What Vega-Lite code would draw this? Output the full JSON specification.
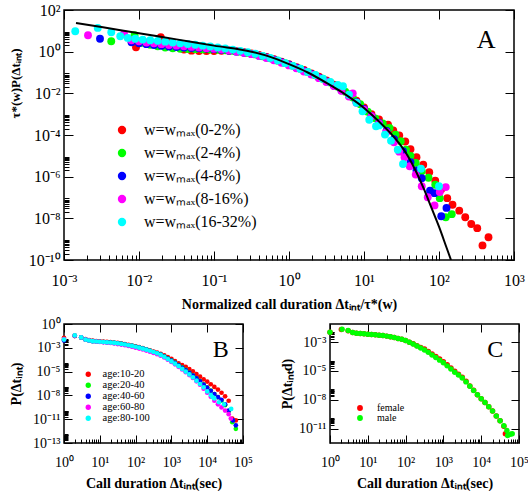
{
  "$schema": "https://vega.github.io/schema/vega-lite/v6.json",
  "background": "white",
  "padding": {"left": 8, "top": 1, "right": 0, "bottom": 0},
  "config": {
    "view": {"stroke": "black", "strokeWidth": 1.5},
    "font": "Liberation Serif",
    "axis": {"grid": false, "domain": false, "ticks": true, "labelFont": "Liberation Serif", "titleFont": "Liberation Serif", "labelColor": "black", "titleColor": "black", "tickColor": "black", "tickWidth": 1, "tickOpacity": 1, "titleFontWeight": "bold", "labelFlush": false, "labelOverlap": false},
    "legend": {"labelFont": "Liberation Serif", "labelColor": "black", "title": null}
  },
  "datasets": {
    "A": [
      {"series":"0-2%","log_x":-2.04,"log_y":0.21},{"series":"0-2%","log_x":-1.71,"log_y":0.69},{"series":"0-2%","log_x":-1.6,"log_y":0.42},{"series":"0-2%","log_x":-1.5,"log_y":0.22},{"series":"0-2%","log_x":-1.4,"log_y":0.1},{"series":"0-2%","log_x":-1.3,"log_y":0.05},{"series":"0-2%","log_x":-1.2,"log_y":0.03},{"series":"0-2%","log_x":-1.1,"log_y":0.03},{"series":"0-2%","log_x":-1.0,"log_y":0.03},{"series":"0-2%","log_x":-0.9,"log_y":0.04},{"series":"0-2%","log_x":-0.8,"log_y":0.04},{"series":"0-2%","log_x":-0.7,"log_y":0.02},{"series":"0-2%","log_x":-0.6,"log_y":-0.03},{"series":"0-2%","log_x":-0.5,"log_y":-0.09},{"series":"0-2%","log_x":-0.4,"log_y":-0.16},{"series":"0-2%","log_x":-0.3,"log_y":-0.25},{"series":"0-2%","log_x":-0.2,"log_y":-0.36},{"series":"0-2%","log_x":-0.1,"log_y":-0.48},{"series":"0-2%","log_x":0,"log_y":-0.6},{"series":"0-2%","log_x":0.1,"log_y":-0.74},{"series":"0-2%","log_x":0.2,"log_y":-0.88},{"series":"0-2%","log_x":0.3,"log_y":-1.04},{"series":"0-2%","log_x":0.4,"log_y":-1.2},{"series":"0-2%","log_x":0.5,"log_y":-1.38},{"series":"0-2%","log_x":0.6,"log_y":-1.58},{"series":"0-2%","log_x":0.7,"log_y":-1.8},{"series":"0-2%","log_x":0.8,"log_y":-2.05},{"series":"0-2%","log_x":0.9,"log_y":-2.35},{"series":"0-2%","log_x":1.0,"log_y":-2.68},{"series":"0-2%","log_x":1.1,"log_y":-3.0},{"series":"0-2%","log_x":1.2,"log_y":-3.25},{"series":"0-2%","log_x":1.32,"log_y":-3.5},{"series":"0-2%","log_x":1.39,"log_y":-3.78},{"series":"0-2%","log_x":1.47,"log_y":-4.02},{"series":"0-2%","log_x":1.55,"log_y":-4.31},{"series":"0-2%","log_x":1.62,"log_y":-4.68},{"series":"0-2%","log_x":1.7,"log_y":-5.07},{"series":"0-2%","log_x":1.79,"log_y":-5.43},{"series":"0-2%","log_x":1.87,"log_y":-5.79},{"series":"0-2%","log_x":1.95,"log_y":-6.19},{"series":"0-2%","log_x":2.03,"log_y":-6.6},{"series":"0-2%","log_x":2.11,"log_y":-7.03},{"series":"0-2%","log_x":2.18,"log_y":-7.35},{"series":"0-2%","log_x":2.27,"log_y":-7.63},{"series":"0-2%","log_x":2.35,"log_y":-7.95},{"series":"0-2%","log_x":2.43,"log_y":-8.27},{"series":"0-2%","log_x":2.51,"log_y":-8.47},{"series":"0-2%","log_x":2.58,"log_y":-9.3},{"series":"0-2%","log_x":2.66,"log_y":-8.91},
      {"series":"2-4%","log_x":-2.37,"log_y":0.5},{"series":"2-4%","log_x":-2.06,"log_y":0.79},{"series":"2-4%","log_x":-1.95,"log_y":0.42},{"series":"2-4%","log_x":-1.85,"log_y":0.33},{"series":"2-4%","log_x":-1.75,"log_y":0.26},{"series":"2-4%","log_x":-1.65,"log_y":0.2},{"series":"2-4%","log_x":-1.55,"log_y":0.16},{"series":"2-4%","log_x":-1.45,"log_y":0.14},{"series":"2-4%","log_x":-1.35,"log_y":0.13},{"series":"2-4%","log_x":-1.25,"log_y":0.12},{"series":"2-4%","log_x":-1.15,"log_y":0.11},{"series":"2-4%","log_x":-1.05,"log_y":0.1},{"series":"2-4%","log_x":-0.95,"log_y":0.09},{"series":"2-4%","log_x":-0.85,"log_y":0.07},{"series":"2-4%","log_x":-0.75,"log_y":0.04},{"series":"2-4%","log_x":-0.65,"log_y":0.0},{"series":"2-4%","log_x":-0.55,"log_y":-0.06},{"series":"2-4%","log_x":-0.45,"log_y":-0.13},{"series":"2-4%","log_x":-0.35,"log_y":-0.22},{"series":"2-4%","log_x":-0.25,"log_y":-0.32},{"series":"2-4%","log_x":-0.15,"log_y":-0.43},{"series":"2-4%","log_x":-0.05,"log_y":-0.55},{"series":"2-4%","log_x":0.05,"log_y":-0.68},{"series":"2-4%","log_x":0.15,"log_y":-0.82},{"series":"2-4%","log_x":0.25,"log_y":-0.97},{"series":"2-4%","log_x":0.35,"log_y":-1.13},{"series":"2-4%","log_x":0.45,"log_y":-1.3},{"series":"2-4%","log_x":0.55,"log_y":-1.48},{"series":"2-4%","log_x":0.65,"log_y":-1.68},{"series":"2-4%","log_x":0.75,"log_y":-1.92},{"series":"2-4%","log_x":0.85,"log_y":-2.2},{"series":"2-4%","log_x":0.95,"log_y":-2.52},{"series":"2-4%","log_x":1.05,"log_y":-2.88},{"series":"2-4%","log_x":1.15,"log_y":-3.2},{"series":"2-4%","log_x":1.25,"log_y":-3.45},{"series":"2-4%","log_x":1.34,"log_y":-3.66},{"series":"2-4%","log_x":1.42,"log_y":-3.98},{"series":"2-4%","log_x":1.49,"log_y":-4.3},{"series":"2-4%","log_x":1.56,"log_y":-4.71},{"series":"2-4%","log_x":1.62,"log_y":-5.0},{"series":"2-4%","log_x":1.69,"log_y":-5.34},{"series":"2-4%","log_x":1.77,"log_y":-5.74},{"series":"2-4%","log_x":1.86,"log_y":-6.05},{"series":"2-4%","log_x":1.95,"log_y":-6.39},{"series":"2-4%","log_x":2.01,"log_y":-7.03},{"series":"2-4%","log_x":2.09,"log_y":-7.95},{"series":"2-4%","log_x":2.17,"log_y":-7.8},
      {"series":"4-8%","log_x":-2.52,"log_y":0.62},{"series":"4-8%","log_x":-2.1,"log_y":0.45},{"series":"4-8%","log_x":-2.0,"log_y":0.4},{"series":"4-8%","log_x":-1.9,"log_y":0.36},{"series":"4-8%","log_x":-1.8,"log_y":0.32},{"series":"4-8%","log_x":-1.7,"log_y":0.28},{"series":"4-8%","log_x":-1.6,"log_y":0.25},{"series":"4-8%","log_x":-1.5,"log_y":0.22},{"series":"4-8%","log_x":-1.4,"log_y":0.2},{"series":"4-8%","log_x":-1.3,"log_y":0.18},{"series":"4-8%","log_x":-1.2,"log_y":0.17},{"series":"4-8%","log_x":-1.1,"log_y":0.15},{"series":"4-8%","log_x":-1.0,"log_y":0.12},{"series":"4-8%","log_x":-0.9,"log_y":0.09},{"series":"4-8%","log_x":-0.8,"log_y":0.05},{"series":"4-8%","log_x":-0.7,"log_y":0.0},{"series":"4-8%","log_x":-0.6,"log_y":-0.05},{"series":"4-8%","log_x":-0.5,"log_y":-0.11},{"series":"4-8%","log_x":-0.4,"log_y":-0.19},{"series":"4-8%","log_x":-0.3,"log_y":-0.28},{"series":"4-8%","log_x":-0.2,"log_y":-0.39},{"series":"4-8%","log_x":-0.1,"log_y":-0.5},{"series":"4-8%","log_x":0,"log_y":-0.63},{"series":"4-8%","log_x":0.1,"log_y":-0.77},{"series":"4-8%","log_x":0.2,"log_y":-0.92},{"series":"4-8%","log_x":0.3,"log_y":-1.08},{"series":"4-8%","log_x":0.4,"log_y":-1.25},{"series":"4-8%","log_x":0.5,"log_y":-1.43},{"series":"4-8%","log_x":0.6,"log_y":-1.63},{"series":"4-8%","log_x":0.7,"log_y":-1.86},{"series":"4-8%","log_x":0.8,"log_y":-2.12},{"series":"4-8%","log_x":0.9,"log_y":-2.42},{"series":"4-8%","log_x":1.0,"log_y":-2.75},{"series":"4-8%","log_x":1.1,"log_y":-3.1},{"series":"4-8%","log_x":1.2,"log_y":-3.42},{"series":"4-8%","log_x":1.3,"log_y":-3.8},{"series":"4-8%","log_x":1.4,"log_y":-4.2},{"series":"4-8%","log_x":1.52,"log_y":-4.78},{"series":"4-8%","log_x":1.62,"log_y":-5.3},{"series":"4-8%","log_x":1.7,"log_y":-5.7},{"series":"4-8%","log_x":1.77,"log_y":-6.07},{"series":"4-8%","log_x":1.88,"log_y":-6.67},{"series":"4-8%","log_x":1.94,"log_y":-6.79},{"series":"4-8%","log_x":2.03,"log_y":-7.9},{"series":"4-8%","log_x":2.1,"log_y":-7.5},
      {"series":"8-16%","log_x":-2.68,"log_y":0.79},{"series":"8-16%","log_x":-2.2,"log_y":0.85},{"series":"8-16%","log_x":-2.1,"log_y":0.55},{"series":"8-16%","log_x":-2.0,"log_y":0.5},{"series":"8-16%","log_x":-1.9,"log_y":0.44},{"series":"8-16%","log_x":-1.8,"log_y":0.4},{"series":"8-16%","log_x":-1.7,"log_y":0.36},{"series":"8-16%","log_x":-1.6,"log_y":0.32},{"series":"8-16%","log_x":-1.5,"log_y":0.29},{"series":"8-16%","log_x":-1.4,"log_y":0.26},{"series":"8-16%","log_x":-1.3,"log_y":0.23},{"series":"8-16%","log_x":-1.2,"log_y":0.2},{"series":"8-16%","log_x":-1.1,"log_y":0.17},{"series":"8-16%","log_x":-1.0,"log_y":0.14},{"series":"8-16%","log_x":-0.9,"log_y":0.1},{"series":"8-16%","log_x":-0.8,"log_y":0.06},{"series":"8-16%","log_x":-0.7,"log_y":0.01},{"series":"8-16%","log_x":-0.6,"log_y":-0.05},{"series":"8-16%","log_x":-0.5,"log_y":-0.12},{"series":"8-16%","log_x":-0.4,"log_y":-0.2},{"series":"8-16%","log_x":-0.3,"log_y":-0.3},{"series":"8-16%","log_x":-0.2,"log_y":-0.41},{"series":"8-16%","log_x":-0.1,"log_y":-0.53},{"series":"8-16%","log_x":0,"log_y":-0.66},{"series":"8-16%","log_x":0.1,"log_y":-0.8},{"series":"8-16%","log_x":0.2,"log_y":-0.95},{"series":"8-16%","log_x":0.3,"log_y":-1.1},{"series":"8-16%","log_x":0.4,"log_y":-1.27},{"series":"8-16%","log_x":0.5,"log_y":-1.45},{"series":"8-16%","log_x":0.6,"log_y":-1.65},{"series":"8-16%","log_x":0.7,"log_y":-1.88},{"series":"8-16%","log_x":0.8,"log_y":-2.15},{"series":"8-16%","log_x":0.85,"log_y":-2.0},{"series":"8-16%","log_x":0.9,"log_y":-2.45},{"series":"8-16%","log_x":1.0,"log_y":-2.78},{"series":"8-16%","log_x":1.1,"log_y":-3.1},{"series":"8-16%","log_x":1.2,"log_y":-3.45},{"series":"8-16%","log_x":1.3,"log_y":-3.85},{"series":"8-16%","log_x":1.4,"log_y":-4.35},{"series":"8-16%","log_x":1.47,"log_y":-4.8},{"series":"8-16%","log_x":1.54,"log_y":-5.07},{"series":"8-16%","log_x":1.61,"log_y":-5.5},{"series":"8-16%","log_x":1.69,"log_y":-5.9},{"series":"8-16%","log_x":1.77,"log_y":-6.46},{"series":"8-16%","log_x":1.85,"log_y":-6.99},{"series":"8-16%","log_x":1.94,"log_y":-7.38},{"series":"8-16%","log_x":2.01,"log_y":-6.74},{"series":"8-16%","log_x":2.09,"log_y":-6.5},
      {"series":"16-32%","log_x":-2.85,"log_y":0.98},{"series":"16-32%","log_x":-2.55,"log_y":1.14},{"series":"16-32%","log_x":-2.37,"log_y":0.93},{"series":"16-32%","log_x":-2.25,"log_y":0.74},{"series":"16-32%","log_x":-2.15,"log_y":0.66},{"series":"16-32%","log_x":-2.05,"log_y":0.62},{"series":"16-32%","log_x":-1.95,"log_y":0.58},{"series":"16-32%","log_x":-1.85,"log_y":0.55},{"series":"16-32%","log_x":-1.75,"log_y":0.52},{"series":"16-32%","log_x":-1.65,"log_y":0.48},{"series":"16-32%","log_x":-1.55,"log_y":0.44},{"series":"16-32%","log_x":-1.45,"log_y":0.4},{"series":"16-32%","log_x":-1.35,"log_y":0.37},{"series":"16-32%","log_x":-1.25,"log_y":0.33},{"series":"16-32%","log_x":-1.15,"log_y":0.29},{"series":"16-32%","log_x":-1.05,"log_y":0.25},{"series":"16-32%","log_x":-0.95,"log_y":0.2},{"series":"16-32%","log_x":-0.85,"log_y":0.15},{"series":"16-32%","log_x":-0.75,"log_y":0.1},{"series":"16-32%","log_x":-0.65,"log_y":0.04},{"series":"16-32%","log_x":-0.55,"log_y":-0.03},{"series":"16-32%","log_x":-0.45,"log_y":-0.1},{"series":"16-32%","log_x":-0.35,"log_y":-0.2},{"series":"16-32%","log_x":-0.25,"log_y":-0.3},{"series":"16-32%","log_x":-0.15,"log_y":-0.42},{"series":"16-32%","log_x":-0.05,"log_y":-0.55},{"series":"16-32%","log_x":0.05,"log_y":-0.68},{"series":"16-32%","log_x":0.15,"log_y":-0.82},{"series":"16-32%","log_x":0.25,"log_y":-0.97},{"series":"16-32%","log_x":0.35,"log_y":-1.12},{"series":"16-32%","log_x":0.45,"log_y":-1.3},{"series":"16-32%","log_x":0.55,"log_y":-1.45},{"series":"16-32%","log_x":0.65,"log_y":-1.6},{"series":"16-32%","log_x":0.72,"log_y":-1.66},{"series":"16-32%","log_x":0.8,"log_y":-2.07},{"series":"16-32%","log_x":0.9,"log_y":-2.45},{"series":"16-32%","log_x":0.98,"log_y":-2.86},{"series":"16-32%","log_x":1.07,"log_y":-3.27},{"series":"16-32%","log_x":1.16,"log_y":-3.58},{"series":"16-32%","log_x":1.2,"log_y":-3.54},{"series":"16-32%","log_x":1.28,"log_y":-3.98},{"series":"16-32%","log_x":1.36,"log_y":-4.27},{"series":"16-32%","log_x":1.45,"log_y":-4.71},{"series":"16-32%","log_x":1.52,"log_y":-5.39},{"series":"16-32%","log_x":1.76,"log_y":-5.62},{"series":"16-32%","log_x":2.0,"log_y":-6.46}
    ],
    "Aline": [
      {"log_x":-2.84,"log_y":1.38},{"log_x":-2.5,"log_y":1.18},{"log_x":-2.0,"log_y":0.88},{"log_x":-1.5,"log_y":0.59},{"log_x":-1.0,"log_y":0.29},{"log_x":-0.5,"log_y":0.0},{"log_x":-0.25,"log_y":-0.25},{"log_x":0.0,"log_y":-0.6},{"log_x":0.25,"log_y":-1.0},{"log_x":0.5,"log_y":-1.5},{"log_x":0.75,"log_y":-2.05},{"log_x":1.0,"log_y":-2.7},{"log_x":1.2,"log_y":-3.35},{"log_x":1.4,"log_y":-4.1},{"log_x":1.5,"log_y":-4.55},{"log_x":1.6,"log_y":-5.1},{"log_x":1.7,"log_y":-5.8},{"log_x":1.8,"log_y":-6.6},{"log_x":1.9,"log_y":-7.5},{"log_x":2.0,"log_y":-8.4},{"log_x":2.1,"log_y":-9.4},{"log_x":2.16,"log_y":-10.0}
    ],
    "B": [
      {"age":"10-20","log_x":0,"log_y":-1.55},{"age":"10-20","log_x":0.3,"log_y":-1.35},{"age":"10-20","log_x":0.48,"log_y":-1.52},{"age":"10-20","log_x":0.6,"log_y":-1.7},{"age":"10-20","log_x":0.7,"log_y":-1.8},{"age":"10-20","log_x":0.8,"log_y":-1.87},{"age":"10-20","log_x":0.9,"log_y":-1.91},{"age":"10-20","log_x":1.0,"log_y":-1.94},{"age":"10-20","log_x":1.1,"log_y":-1.97},{"age":"10-20","log_x":1.2,"log_y":-2.0},{"age":"10-20","log_x":1.3,"log_y":-2.03},{"age":"10-20","log_x":1.4,"log_y":-2.07},{"age":"10-20","log_x":1.5,"log_y":-2.12},{"age":"10-20","log_x":1.6,"log_y":-2.18},{"age":"10-20","log_x":1.7,"log_y":-2.25},{"age":"10-20","log_x":1.8,"log_y":-2.33},{"age":"10-20","log_x":1.9,"log_y":-2.41},{"age":"10-20","log_x":2.0,"log_y":-2.5},{"age":"10-20","log_x":2.1,"log_y":-2.6},{"age":"10-20","log_x":2.2,"log_y":-2.71},{"age":"10-20","log_x":2.3,"log_y":-2.83},{"age":"10-20","log_x":2.4,"log_y":-2.95},{"age":"10-20","log_x":2.5,"log_y":-3.08},{"age":"10-20","log_x":2.6,"log_y":-3.2},{"age":"10-20","log_x":2.7,"log_y":-3.35},{"age":"10-20","log_x":2.8,"log_y":-3.5},{"age":"10-20","log_x":2.9,"log_y":-3.7},{"age":"10-20","log_x":3.0,"log_y":-3.9},{"age":"10-20","log_x":3.1,"log_y":-4.15},{"age":"10-20","log_x":3.2,"log_y":-4.4},{"age":"10-20","log_x":3.3,"log_y":-4.6},{"age":"10-20","log_x":3.4,"log_y":-4.8},{"age":"10-20","log_x":3.5,"log_y":-5.05},{"age":"10-20","log_x":3.6,"log_y":-5.3},{"age":"10-20","log_x":3.7,"log_y":-5.6},{"age":"10-20","log_x":3.8,"log_y":-5.9},{"age":"10-20","log_x":3.9,"log_y":-6.2},{"age":"10-20","log_x":4.0,"log_y":-6.45},{"age":"10-20","log_x":4.1,"log_y":-6.75},{"age":"10-20","log_x":4.2,"log_y":-7.05},{"age":"10-20","log_x":4.3,"log_y":-7.35},{"age":"10-20","log_x":4.4,"log_y":-7.7},{"age":"10-20","log_x":4.5,"log_y":-8.1},{"age":"10-20","log_x":4.6,"log_y":-8.6},{"age":"10-20","log_x":4.7,"log_y":-10.6},{"age":"10-20","log_x":4.8,"log_y":-10.8},
      {"age":"20-40","log_x":0,"log_y":-1.7},{"age":"20-40","log_x":0.3,"log_y":-1.3},{"age":"20-40","log_x":0.48,"log_y":-1.5},{"age":"20-40","log_x":0.6,"log_y":-1.75},{"age":"20-40","log_x":0.7,"log_y":-1.85},{"age":"20-40","log_x":0.8,"log_y":-1.92},{"age":"20-40","log_x":0.9,"log_y":-1.96},{"age":"20-40","log_x":1.0,"log_y":-1.99},{"age":"20-40","log_x":1.1,"log_y":-2.02},{"age":"20-40","log_x":1.2,"log_y":-2.05},{"age":"20-40","log_x":1.3,"log_y":-2.08},{"age":"20-40","log_x":1.4,"log_y":-2.12},{"age":"20-40","log_x":1.5,"log_y":-2.17},{"age":"20-40","log_x":1.6,"log_y":-2.23},{"age":"20-40","log_x":1.7,"log_y":-2.3},{"age":"20-40","log_x":1.8,"log_y":-2.38},{"age":"20-40","log_x":1.9,"log_y":-2.46},{"age":"20-40","log_x":2.0,"log_y":-2.55},{"age":"20-40","log_x":2.1,"log_y":-2.65},{"age":"20-40","log_x":2.2,"log_y":-2.76},{"age":"20-40","log_x":2.3,"log_y":-2.88},{"age":"20-40","log_x":2.4,"log_y":-3.0},{"age":"20-40","log_x":2.5,"log_y":-3.14},{"age":"20-40","log_x":2.6,"log_y":-3.28},{"age":"20-40","log_x":2.7,"log_y":-3.44},{"age":"20-40","log_x":2.8,"log_y":-3.62},{"age":"20-40","log_x":2.9,"log_y":-3.85},{"age":"20-40","log_x":3.0,"log_y":-4.08},{"age":"20-40","log_x":3.1,"log_y":-4.33},{"age":"20-40","log_x":3.2,"log_y":-4.6},{"age":"20-40","log_x":3.3,"log_y":-4.87},{"age":"20-40","log_x":3.4,"log_y":-5.15},{"age":"20-40","log_x":3.5,"log_y":-5.45},{"age":"20-40","log_x":3.6,"log_y":-5.75},{"age":"20-40","log_x":3.7,"log_y":-6.07},{"age":"20-40","log_x":3.8,"log_y":-6.4},{"age":"20-40","log_x":3.9,"log_y":-6.75},{"age":"20-40","log_x":4.0,"log_y":-7.1},{"age":"20-40","log_x":4.1,"log_y":-7.45},{"age":"20-40","log_x":4.2,"log_y":-7.85},{"age":"20-40","log_x":4.3,"log_y":-8.2},{"age":"20-40","log_x":4.4,"log_y":-8.6},{"age":"20-40","log_x":4.5,"log_y":-9.1},{"age":"20-40","log_x":4.6,"log_y":-9.8},{"age":"20-40","log_x":4.7,"log_y":-11.0},{"age":"20-40","log_x":4.8,"log_y":-11.75},
      {"age":"40-60","log_x":0,"log_y":-1.85},{"age":"40-60","log_x":0.3,"log_y":-1.32},{"age":"40-60","log_x":0.48,"log_y":-1.5},{"age":"40-60","log_x":0.6,"log_y":-1.75},{"age":"40-60","log_x":0.7,"log_y":-1.85},{"age":"40-60","log_x":0.8,"log_y":-1.92},{"age":"40-60","log_x":0.9,"log_y":-1.96},{"age":"40-60","log_x":1.0,"log_y":-1.99},{"age":"40-60","log_x":1.1,"log_y":-2.02},{"age":"40-60","log_x":1.2,"log_y":-2.05},{"age":"40-60","log_x":1.3,"log_y":-2.08},{"age":"40-60","log_x":1.4,"log_y":-2.12},{"age":"40-60","log_x":1.5,"log_y":-2.17},{"age":"40-60","log_x":1.6,"log_y":-2.23},{"age":"40-60","log_x":1.7,"log_y":-2.3},{"age":"40-60","log_x":1.8,"log_y":-2.38},{"age":"40-60","log_x":1.9,"log_y":-2.46},{"age":"40-60","log_x":2.0,"log_y":-2.55},{"age":"40-60","log_x":2.1,"log_y":-2.65},{"age":"40-60","log_x":2.2,"log_y":-2.76},{"age":"40-60","log_x":2.3,"log_y":-2.88},{"age":"40-60","log_x":2.4,"log_y":-3.0},{"age":"40-60","log_x":2.5,"log_y":-3.14},{"age":"40-60","log_x":2.6,"log_y":-3.28},{"age":"40-60","log_x":2.7,"log_y":-3.44},{"age":"40-60","log_x":2.8,"log_y":-3.65},{"age":"40-60","log_x":2.9,"log_y":-3.88},{"age":"40-60","log_x":3.0,"log_y":-4.11},{"age":"40-60","log_x":3.1,"log_y":-4.36},{"age":"40-60","log_x":3.2,"log_y":-4.63},{"age":"40-60","log_x":3.3,"log_y":-4.9},{"age":"40-60","log_x":3.4,"log_y":-5.18},{"age":"40-60","log_x":3.5,"log_y":-5.48},{"age":"40-60","log_x":3.6,"log_y":-5.78},{"age":"40-60","log_x":3.7,"log_y":-6.1},{"age":"40-60","log_x":3.8,"log_y":-6.43},{"age":"40-60","log_x":3.9,"log_y":-6.78},{"age":"40-60","log_x":4.0,"log_y":-7.13},{"age":"40-60","log_x":4.1,"log_y":-7.48},{"age":"40-60","log_x":4.2,"log_y":-7.85},{"age":"40-60","log_x":4.3,"log_y":-8.2},{"age":"40-60","log_x":4.4,"log_y":-8.5},{"age":"40-60","log_x":4.5,"log_y":-9.0},{"age":"40-60","log_x":4.6,"log_y":-9.7},{"age":"40-60","log_x":4.72,"log_y":-10.8},{"age":"40-60","log_x":4.8,"log_y":-11.35},
      {"age":"60-80","log_x":0,"log_y":-1.7},{"age":"60-80","log_x":0.3,"log_y":-1.3},{"age":"60-80","log_x":0.48,"log_y":-1.5},{"age":"60-80","log_x":0.6,"log_y":-1.75},{"age":"60-80","log_x":0.7,"log_y":-1.85},{"age":"60-80","log_x":0.8,"log_y":-1.92},{"age":"60-80","log_x":0.9,"log_y":-1.97},{"age":"60-80","log_x":1.0,"log_y":-2.01},{"age":"60-80","log_x":1.1,"log_y":-2.05},{"age":"60-80","log_x":1.2,"log_y":-2.09},{"age":"60-80","log_x":1.3,"log_y":-2.13},{"age":"60-80","log_x":1.4,"log_y":-2.18},{"age":"60-80","log_x":1.5,"log_y":-2.25},{"age":"60-80","log_x":1.6,"log_y":-2.31},{"age":"60-80","log_x":1.7,"log_y":-2.38},{"age":"60-80","log_x":1.8,"log_y":-2.46},{"age":"60-80","log_x":1.9,"log_y":-2.55},{"age":"60-80","log_x":2.0,"log_y":-2.65},{"age":"60-80","log_x":2.1,"log_y":-2.75},{"age":"60-80","log_x":2.2,"log_y":-2.86},{"age":"60-80","log_x":2.3,"log_y":-2.98},{"age":"60-80","log_x":2.4,"log_y":-3.1},{"age":"60-80","log_x":2.5,"log_y":-3.24},{"age":"60-80","log_x":2.6,"log_y":-3.38},{"age":"60-80","log_x":2.7,"log_y":-3.55},{"age":"60-80","log_x":2.8,"log_y":-3.75},{"age":"60-80","log_x":2.9,"log_y":-4.0},{"age":"60-80","log_x":3.0,"log_y":-4.25},{"age":"60-80","log_x":3.1,"log_y":-4.52},{"age":"60-80","log_x":3.2,"log_y":-4.8},{"age":"60-80","log_x":3.3,"log_y":-5.1},{"age":"60-80","log_x":3.4,"log_y":-5.4},{"age":"60-80","log_x":3.5,"log_y":-5.72},{"age":"60-80","log_x":3.6,"log_y":-6.05},{"age":"60-80","log_x":3.7,"log_y":-6.42},{"age":"60-80","log_x":3.8,"log_y":-6.8},{"age":"60-80","log_x":3.9,"log_y":-7.25},{"age":"60-80","log_x":4.0,"log_y":-7.7},{"age":"60-80","log_x":4.1,"log_y":-8.15},{"age":"60-80","log_x":4.2,"log_y":-8.6},{"age":"60-80","log_x":4.3,"log_y":-9.0},{"age":"60-80","log_x":4.4,"log_y":-9.35},{"age":"60-80","log_x":4.5,"log_y":-9.7},{"age":"60-80","log_x":4.6,"log_y":-10.1},{"age":"60-80","log_x":4.66,"log_y":-10.6},
      {"age":"80-100","log_x":0,"log_y":-1.75},{"age":"80-100","log_x":0.3,"log_y":-1.28},{"age":"80-100","log_x":0.48,"log_y":-1.5},{"age":"80-100","log_x":0.6,"log_y":-1.75},{"age":"80-100","log_x":0.7,"log_y":-1.85},{"age":"80-100","log_x":0.8,"log_y":-1.92},{"age":"80-100","log_x":0.9,"log_y":-1.96},{"age":"80-100","log_x":1.0,"log_y":-1.99},{"age":"80-100","log_x":1.1,"log_y":-2.02},{"age":"80-100","log_x":1.2,"log_y":-2.05},{"age":"80-100","log_x":1.3,"log_y":-2.08},{"age":"80-100","log_x":1.4,"log_y":-2.12},{"age":"80-100","log_x":1.5,"log_y":-2.17},{"age":"80-100","log_x":1.6,"log_y":-2.23},{"age":"80-100","log_x":1.7,"log_y":-2.3},{"age":"80-100","log_x":1.8,"log_y":-2.38},{"age":"80-100","log_x":1.9,"log_y":-2.46},{"age":"80-100","log_x":2.0,"log_y":-2.55},{"age":"80-100","log_x":2.1,"log_y":-2.65},{"age":"80-100","log_x":2.2,"log_y":-2.76},{"age":"80-100","log_x":2.3,"log_y":-2.88},{"age":"80-100","log_x":2.4,"log_y":-3.0},{"age":"80-100","log_x":2.5,"log_y":-3.14},{"age":"80-100","log_x":2.6,"log_y":-3.28},{"age":"80-100","log_x":2.7,"log_y":-3.46},{"age":"80-100","log_x":2.8,"log_y":-3.68},{"age":"80-100","log_x":2.9,"log_y":-3.93},{"age":"80-100","log_x":3.0,"log_y":-4.18},{"age":"80-100","log_x":3.1,"log_y":-4.45},{"age":"80-100","log_x":3.2,"log_y":-4.72},{"age":"80-100","log_x":3.3,"log_y":-5.02},{"age":"80-100","log_x":3.4,"log_y":-5.33},{"age":"80-100","log_x":3.5,"log_y":-5.65},{"age":"80-100","log_x":3.6,"log_y":-5.98},{"age":"80-100","log_x":3.7,"log_y":-6.35},{"age":"80-100","log_x":3.8,"log_y":-6.72},{"age":"80-100","log_x":3.9,"log_y":-7.1},{"age":"80-100","log_x":4.0,"log_y":-7.55},{"age":"80-100","log_x":4.1,"log_y":-7.96},{"age":"80-100","log_x":4.15,"log_y":-8.2},{"age":"80-100","log_x":4.2,"log_y":-8.35},{"age":"80-100","log_x":4.33,"log_y":-8.77},{"age":"80-100","log_x":4.47,"log_y":-9.0},{"age":"80-100","log_x":4.67,"log_y":-9.52}
    ],
    "C": [
      {"gender":"female","log_x":0.0,"log_y":-1.76},{"gender":"female","log_x":0.3,"log_y":-1.5},{"gender":"female","log_x":0.48,"log_y":-1.62},{"gender":"female","log_x":0.6,"log_y":-1.78},{"gender":"female","log_x":0.7,"log_y":-1.85},{"gender":"female","log_x":0.8,"log_y":-1.88},{"gender":"female","log_x":0.9,"log_y":-1.91},{"gender":"female","log_x":1.0,"log_y":-1.94},{"gender":"female","log_x":1.1,"log_y":-1.97},{"gender":"female","log_x":1.2,"log_y":-2.0},{"gender":"female","log_x":1.3,"log_y":-2.03},{"gender":"female","log_x":1.4,"log_y":-2.07},{"gender":"female","log_x":1.5,"log_y":-2.12},{"gender":"female","log_x":1.6,"log_y":-2.17},{"gender":"female","log_x":1.7,"log_y":-2.24},{"gender":"female","log_x":1.8,"log_y":-2.33},{"gender":"female","log_x":1.9,"log_y":-2.42},{"gender":"female","log_x":2.0,"log_y":-2.53},{"gender":"female","log_x":2.1,"log_y":-2.68},{"gender":"female","log_x":2.2,"log_y":-2.83},{"gender":"female","log_x":2.3,"log_y":-3.0},{"gender":"female","log_x":2.4,"log_y":-3.16},{"gender":"female","log_x":2.5,"log_y":-3.32},{"gender":"female","log_x":2.6,"log_y":-3.53},{"gender":"female","log_x":2.7,"log_y":-3.77},{"gender":"female","log_x":2.8,"log_y":-4.0},{"gender":"female","log_x":2.9,"log_y":-4.24},{"gender":"female","log_x":3.0,"log_y":-4.48},{"gender":"female","log_x":3.1,"log_y":-4.77},{"gender":"female","log_x":3.2,"log_y":-5.06},{"gender":"female","log_x":3.3,"log_y":-5.36},{"gender":"female","log_x":3.4,"log_y":-5.64},{"gender":"female","log_x":3.5,"log_y":-5.93},{"gender":"female","log_x":3.6,"log_y":-6.3},{"gender":"female","log_x":3.7,"log_y":-6.72},{"gender":"female","log_x":3.8,"log_y":-7.13},{"gender":"female","log_x":3.9,"log_y":-7.53},{"gender":"female","log_x":4.0,"log_y":-7.9},{"gender":"female","log_x":4.1,"log_y":-8.25},{"gender":"female","log_x":4.2,"log_y":-8.65},{"gender":"female","log_x":4.3,"log_y":-9.05},{"gender":"female","log_x":4.4,"log_y":-9.5},{"gender":"female","log_x":4.5,"log_y":-9.95},{"gender":"female","log_x":4.6,"log_y":-10.45},{"gender":"female","log_x":4.64,"log_y":-11.15},
      {"gender":"male","log_x":0.0,"log_y":-1.76},{"gender":"male","log_x":0.32,"log_y":-1.48},{"gender":"male","log_x":0.48,"log_y":-1.61},{"gender":"male","log_x":0.6,"log_y":-1.78},{"gender":"male","log_x":0.7,"log_y":-1.85},{"gender":"male","log_x":0.8,"log_y":-1.88},{"gender":"male","log_x":0.9,"log_y":-1.91},{"gender":"male","log_x":1.0,"log_y":-1.94},{"gender":"male","log_x":1.1,"log_y":-1.97},{"gender":"male","log_x":1.2,"log_y":-2.0},{"gender":"male","log_x":1.3,"log_y":-2.03},{"gender":"male","log_x":1.4,"log_y":-2.07},{"gender":"male","log_x":1.5,"log_y":-2.12},{"gender":"male","log_x":1.6,"log_y":-2.17},{"gender":"male","log_x":1.7,"log_y":-2.24},{"gender":"male","log_x":1.8,"log_y":-2.33},{"gender":"male","log_x":1.9,"log_y":-2.42},{"gender":"male","log_x":2.0,"log_y":-2.53},{"gender":"male","log_x":2.1,"log_y":-2.68},{"gender":"male","log_x":2.2,"log_y":-2.85},{"gender":"male","log_x":2.3,"log_y":-3.04},{"gender":"male","log_x":2.4,"log_y":-3.22},{"gender":"male","log_x":2.5,"log_y":-3.4},{"gender":"male","log_x":2.6,"log_y":-3.62},{"gender":"male","log_x":2.7,"log_y":-3.86},{"gender":"male","log_x":2.8,"log_y":-4.1},{"gender":"male","log_x":2.9,"log_y":-4.34},{"gender":"male","log_x":3.0,"log_y":-4.58},{"gender":"male","log_x":3.1,"log_y":-4.87},{"gender":"male","log_x":3.2,"log_y":-5.16},{"gender":"male","log_x":3.3,"log_y":-5.45},{"gender":"male","log_x":3.4,"log_y":-5.72},{"gender":"male","log_x":3.5,"log_y":-6.0},{"gender":"male","log_x":3.6,"log_y":-6.35},{"gender":"male","log_x":3.7,"log_y":-6.75},{"gender":"male","log_x":3.8,"log_y":-7.15},{"gender":"male","log_x":3.9,"log_y":-7.55},{"gender":"male","log_x":4.0,"log_y":-7.9},{"gender":"male","log_x":4.1,"log_y":-8.25},{"gender":"male","log_x":4.2,"log_y":-8.65},{"gender":"male","log_x":4.3,"log_y":-9.05},{"gender":"male","log_x":4.4,"log_y":-9.5},{"gender":"male","log_x":4.5,"log_y":-9.95},{"gender":"male","log_x":4.6,"log_y":-10.4},{"gender":"male","log_x":4.68,"log_y":-10.85},{"gender":"male","log_x":4.7,"log_y":-11.3},{"gender":"male","log_x":4.77,"log_y":-11.2},{"gender":"male","log_x":4.82,"log_y":-11.15}
    ]
  },
  "spacing": 4,
  "resolve": {"scale": {"color": "independent"}, "legend": {"color": "independent"}},
  "vconcat": [
    {
      "width": 450, "height": 250,
      "resolve": {"axis": {"x": "independent", "y": "independent"}},
      "layer": [
        {
          "data": {"name": "A"},
          "mark": {"type": "circle", "size": 62, "opacity": 1},
          "encoding": {
            "x": {"field": "log_x", "type": "quantitative", "scale": {"domain": [-3, 3], "nice": false, "zero": false},
                  "axis": {"orient": "bottom", "values": [-3,-2.699,-2.5229,-2.3979,-2.301,-2.2218,-2.1549,-2.0969,-2.0458,-2,-1.699,-1.5229,-1.3979,-1.301,-1.2218,-1.1549,-1.0969,-1.0458,-1,-0.699,-0.5229,-0.3979,-0.301,-0.2218,-0.1549,-0.0969,-0.0458,0,0.301,0.4771,0.6021,0.699,0.7782,0.8451,0.9031,0.9542,1,1.301,1.4771,1.6021,1.699,1.7782,1.8451,1.9031,1.9542,2,2.301,2.4771,2.6021,2.699,2.7782,2.8451,2.9031,2.9542,3],
                           "tickSize": {"condition": {"test": "abs(datum.value - round(datum.value)) < 0.001", "value": -9}, "value": -5},
                           "labelPadding": 21, "labelFontSize": 16,
                           "labelExpr": "abs(datum.value - round(datum.value)) < 0.001 ? '10' + (round(datum.value) < 0 ? '⁻' : '') + (abs(round(datum.value)) >= 10 ? '¹' : '') + ['⁰','¹','²','³','⁴','⁵','⁶','⁷','⁸','⁹'][abs(round(datum.value)) % 10] : ''",
                           "title": "Normalized call duration Δtᵢₙₜ/τ*(w)", "titleFontSize": 14, "titlePadding": 5}},
            "y": {"field": "log_y", "type": "quantitative", "scale": {"domain": [-10, 2], "nice": false, "zero": false},
                  "axis": {"orient": "left", "values": [-10,-9.699,-9.5229,-9.3979,-9.301,-9.2218,-9.1549,-9.0969,-9.0458,-8,-7.699,-7.5229,-7.3979,-7.301,-7.2218,-7.1549,-7.0969,-7.0458,-6,-5.699,-5.5229,-5.3979,-5.301,-5.2218,-5.1549,-5.0969,-5.0458,-4,-3.699,-3.5229,-3.3979,-3.301,-3.2218,-3.1549,-3.0969,-3.0458,-2,-1.699,-1.5229,-1.3979,-1.301,-1.2218,-1.1549,-1.0969,-1.0458,0,0.301,0.4771,0.6021,0.699,0.7782,0.8451,0.9031,0.9542,2],
                           "tickSize": {"condition": {"test": "abs(datum.value - round(datum.value)) < 0.001", "value": -9}, "value": -5},
                           "labelPadding": 13, "labelFontSize": 16,
                           "labelExpr": "abs(datum.value - round(datum.value)) < 0.001 ? '10' + (round(datum.value) < 0 ? '⁻' : '') + (abs(round(datum.value)) >= 10 ? '¹' : '') + ['⁰','¹','²','³','⁴','⁵','⁶','⁷','⁸','⁹'][abs(round(datum.value)) % 10] : ''",
                           "title": "τ*(w)P(Δtᵢₙₜ)", "titleFontSize": 13, "titlePadding": 6, "titleY": 73, "titleAlign": "center"}},
            "color": {"field": "series", "type": "nominal",
                      "scale": {"domain": ["0-2%","2-4%","4-8%","8-16%","16-32%"], "range": ["#ff0000","#00ff00","#0000ff","#ff00ff","#00ffff"]},
                      "legend": {"orient": "none", "legendX": 50, "legendY": 112, "labelExpr": "'w=wₘₐₓ(' + datum.label + ')'", "labelFontSize": 16, "symbolSize": 70, "symbolType": "circle", "rowPadding": 7, "labelOffset": 14, "symbolStrokeWidth": 0}}
          }
        },
        {
          "data": {"name": "Aline"},
          "mark": {"type": "line", "color": "black", "strokeWidth": 2, "interpolate": "monotone", "clip": true},
          "encoding": {
            "x": {"field": "log_x", "type": "quantitative", "scale": {"domain": [-3, 3], "nice": false, "zero": false},
                  "axis": {"orient": "top", "values": [-3,-2,-1,0,1,2,3], "tickSize": -9, "labels": false, "title": null}},
            "y": {"field": "log_y", "type": "quantitative", "scale": {"domain": [-10, 2], "nice": false, "zero": false},
                  "axis": {"orient": "right", "values": [-10,-8,-6,-4,-2,0,2], "tickSize": -9, "labels": false, "title": null}}
          }
        },
        {
          "data": {"values": [{"panel": "A"}]},
          "mark": {"type": "text", "fontSize": 26, "font": "Liberation Serif", "align": "center", "baseline": "middle"},
          "encoding": {
            "text": {"field": "panel"},
            "x": {"datum": 2.63, "type": "quantitative", "scale": {"domain": [-3, 3], "nice": false, "zero": false}, "axis": null},
            "y": {"datum": 0.55, "type": "quantitative", "scale": {"domain": [-10, 2], "nice": false, "zero": false}, "axis": null}
          }
        }
      ]
    },
    {
      "spacing": 25,
      "resolve": {"scale": {"color": "independent"}, "legend": {"color": "independent"}},
      "hconcat": [
        {
          "width": 179, "height": 119,
          "resolve": {"axis": {"x": "independent", "y": "independent"}},
          "layer": [
            {
              "data": {"name": "B"},
              "mark": {"type": "circle", "size": 22, "opacity": 1},
              "encoding": {
                "x": {"field": "log_x", "type": "quantitative", "scale": {"domain": [0, 5], "nice": false, "zero": false},
                      "axis": {"orient": "bottom", "values": [0,0.301,0.4771,0.6021,0.699,0.7782,0.8451,0.9031,0.9542,1,1.301,1.4771,1.6021,1.699,1.7782,1.8451,1.9031,1.9542,2,2.301,2.4771,2.6021,2.699,2.7782,2.8451,2.9031,2.9542,3,3.301,3.4771,3.6021,3.699,3.7782,3.8451,3.9031,3.9542,4,4.301,4.4771,4.6021,4.699,4.7782,4.8451,4.9031,4.9542,5],
                               "tickSize": {"condition": {"test": "abs(datum.value - round(datum.value)) < 0.001", "value": -8}, "value": -4},
                               "labelPadding": 20, "labelFontSize": 14,
                               "labelExpr": "abs(datum.value - round(datum.value)) < 0.001 ? '10' + (round(datum.value) < 0 ? '⁻' : '') + (abs(round(datum.value)) >= 10 ? '¹' : '') + ['⁰','¹','²','³','⁴','⁵','⁶','⁷','⁸','⁹'][abs(round(datum.value)) % 10] : ''",
                               "title": "Call duration Δtᵢₙₜ(sec)", "titleFontSize": 14, "titlePadding": 3}},
                "y": {"field": "log_y", "type": "quantitative", "scale": {"domain": [-13.3333, 0], "nice": false, "zero": false},
                      "axis": {"orient": "left", "values": [-13.3333,-13.0323,-12.8562,-12.7313,-12.6344,-12.5552,-12.4882,-12.4302,-12.3791,-10.6667,-10.3656,-10.1895,-10.0646,-9.9677,-9.8885,-9.8216,-9.7636,-9.7124,-8,-7.699,-7.5229,-7.3979,-7.301,-7.2218,-7.1549,-7.0969,-7.0458,-5.3333,-5.0323,-4.8562,-4.7313,-4.6344,-4.5552,-4.4882,-4.4302,-4.3791,-2.6667,-2.3656,-2.1895,-2.0646,-1.9677,-1.8885,-1.8216,-1.7636,-1.7124,0],
                               "tickSize": {"condition": {"test": "abs(datum.value * 3 - round(datum.value * 3)) < 0.01", "value": -8}, "value": -4},
                               "labelPadding": 12, "labelFontSize": 14,
                               "labelExpr": "abs(datum.value * 3 - round(datum.value * 3)) < 0.01 ? '10' + (round(datum.value) < 0 ? '⁻' : '') + (abs(round(datum.value)) >= 10 ? '¹' : '') + ['⁰','¹','²','³','⁴','⁵','⁶','⁷','⁸','⁹'][abs(round(datum.value)) % 10] : ''",
                               "title": "P(Δtᵢₙₜ)", "titleFontSize": 14, "titlePadding": 9}},
                "color": {"field": "age", "type": "nominal",
                          "scale": {"domain": ["10-20","20-40","40-60","60-80","80-100"], "range": ["#ff0000","#00ff00","#0000ff","#ff00ff","#00ffff"]},
                          "legend": {"orient": "none", "legendX": 19, "legendY": 45, "labelExpr": "'age:' + datum.label", "labelFontSize": 10.5, "symbolSize": 28, "symbolType": "circle", "rowPadding": -1, "labelOffset": 9, "symbolStrokeWidth": 0}}
              }
            },
            {
              "data": {"values": [{"panel": "B"}]},
              "mark": {"type": "text", "fontSize": 24, "font": "Liberation Serif", "align": "center", "baseline": "middle"},
              "encoding": {
                "text": {"field": "panel"},
                "x": {"datum": 4.38, "type": "quantitative", "scale": {"domain": [0, 5], "nice": false, "zero": false},
                      "axis": {"orient": "top", "values": [0,1,2,3,4,5], "tickSize": -8, "labels": false, "title": null}},
                "y": {"datum": -2.9, "type": "quantitative", "scale": {"domain": [-13.3333, 0], "nice": false, "zero": false},
                      "axis": {"orient": "right", "values": [0,-2.6667,-5.3333,-8,-10.6667,-13.3333], "tickSize": -8, "labels": false, "title": null}}
              }
            }
          ]
        },
        {
          "width": 189, "height": 119,
          "resolve": {"axis": {"x": "independent", "y": "independent"}},
          "layer": [
            {
              "data": {"name": "C"},
              "mark": {"type": "circle", "size": 30, "opacity": 1},
              "encoding": {
                "x": {"field": "log_x", "type": "quantitative", "scale": {"domain": [0, 5], "nice": false, "zero": false},
                      "axis": {"orient": "bottom", "values": [0,0.301,0.4771,0.6021,0.699,0.7782,0.8451,0.9031,0.9542,1,1.301,1.4771,1.6021,1.699,1.7782,1.8451,1.9031,1.9542,2,2.301,2.4771,2.6021,2.699,2.7782,2.8451,2.9031,2.9542,3,3.301,3.4771,3.6021,3.699,3.7782,3.8451,3.9031,3.9542,4,4.301,4.4771,4.6021,4.699,4.7782,4.8451,4.9031,4.9542,5],
                               "tickSize": {"condition": {"test": "abs(datum.value - round(datum.value)) < 0.001", "value": -8}, "value": -4},
                               "labelPadding": 20, "labelFontSize": 14,
                               "labelExpr": "abs(datum.value - round(datum.value)) < 0.001 ? '10' + (round(datum.value) < 0 ? '⁻' : '') + (abs(round(datum.value)) >= 10 ? '¹' : '') + ['⁰','¹','²','³','⁴','⁵','⁶','⁷','⁸','⁹'][abs(round(datum.value)) % 10] : ''",
                               "title": "Call duration Δtᵢₙₜ(sec)", "titleFontSize": 14, "titlePadding": 3}},
                "y": {"field": "log_y", "type": "quantitative", "scale": {"domain": [-12, -1], "nice": false, "zero": false},
                      "axis": {"orient": "left", "values": [-10.6667,-10.3656,-10.1895,-10.0646,-9.9677,-9.8885,-9.8216,-9.7636,-9.7124,-8,-7.699,-7.5229,-7.3979,-7.301,-7.2218,-7.1549,-7.0969,-7.0458,-5.3333,-5.0323,-4.8562,-4.7313,-4.6344,-4.5552,-4.4882,-4.4302,-4.3791,-2.6667,-2.3656,-2.1895,-2.0646,-1.9677,-1.8885,-1.8216,-1.7636,-1.7124],
                               "tickSize": {"condition": {"test": "abs(datum.value * 3 - round(datum.value * 3)) < 0.01", "value": -8}, "value": -4},
                               "labelPadding": 12, "labelFontSize": 14,
                               "labelExpr": "abs(datum.value * 3 - round(datum.value * 3)) < 0.01 ? '10' + (round(datum.value) < 0 ? '⁻' : '') + (abs(round(datum.value)) >= 10 ? '¹' : '') + ['⁰','¹','²','³','⁴','⁵','⁶','⁷','⁸','⁹'][abs(round(datum.value)) % 10] : ''",
                               "title": "P(Δtᵢₙₜd)", "titleFontSize": 14, "titlePadding": 4}},
                "color": {"field": "gender", "type": "nominal",
                          "scale": {"domain": ["female","male"], "range": ["#ff0000","#00ff00"]},
                          "legend": {"orient": "none", "legendX": 25, "legendY": 79, "labelFontSize": 10, "symbolSize": 34, "symbolType": "circle", "rowPadding": 0, "labelOffset": 12, "symbolStrokeWidth": 0}}
              }
            },
            {
              "data": {"values": [{"panel": "C"}]},
              "mark": {"type": "text", "fontSize": 24, "font": "Liberation Serif", "align": "center", "baseline": "middle"},
              "encoding": {
                "text": {"field": "panel"},
                "x": {"datum": 4.37, "type": "quantitative", "scale": {"domain": [0, 5], "nice": false, "zero": false},
                      "axis": {"orient": "top", "values": [0,1,2,3,4,5], "tickSize": -8, "labels": false, "title": null}},
                "y": {"datum": -3.36, "type": "quantitative", "scale": {"domain": [-12, -1], "nice": false, "zero": false},
                      "axis": {"orient": "right", "values": [-2.6667,-5.3333,-8,-10.6667], "tickSize": -8, "labels": false, "title": null}}
              }
            }
          ]
        }
      ]
    }
  ]
}
